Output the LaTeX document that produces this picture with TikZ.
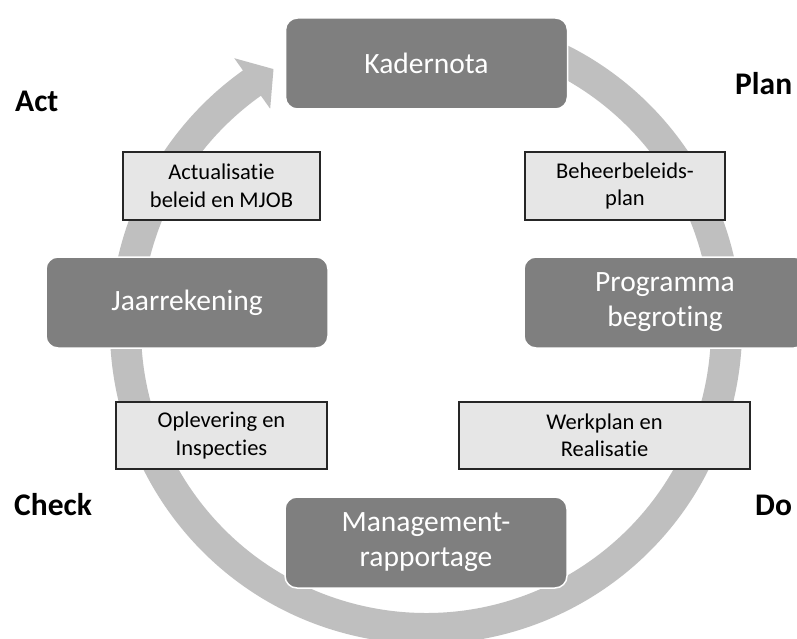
\documentclass[tikz,border=0pt]{standalone}
\usepackage{fontspec}
\setmainfont{Carlito}[Ligatures={NoCommon,NoRare}]
\usetikzlibrary{calc}
\definecolor{boxdark}{HTML}{7F7F7F}
\definecolor{boxlight}{HTML}{E6E6E6}
\definecolor{ringgray}{HTML}{BFBFBF}
\begin{document}
\begin{tikzpicture}[x=1pt,y=-1pt,
  bigbox/.style={rectangle, rounded corners=12pt, fill=boxdark, draw=white, line width=1.5pt,
    text=white, align=center, inner sep=0pt, minimum width=282pt, minimum height=91pt,
    font=\fontsize{29.5}{35}\selectfont},
  smallbox/.style={rectangle, fill=boxlight, draw=black!85, line width=1.3pt, align=center,
    inner sep=0pt, minimum height=67pt, font=\fontsize{22.5}{27.5}\selectfont},
  phase/.style={anchor=base west, inner sep=0pt, font=\fontsize{31.5}{38}\selectfont\bfseries}]
\useasboundingbox (0,0) rectangle (797,639);
\fill[white] (0,0) rectangle (797,639);
\coordinate (c) at (426,328);
% ring arrow
\fill[ringgray] ($(c)+(-75:316)$) arc[start angle=-75, end angle=234.6, radius=316]
  -- ($(c)+(234.6:331)$) -- ($(c)+(239.5:300.5)$) -- ($(c)+(234.6:269)$)
  -- ($(c)+(234.6:285)$) arc[start angle=234.6, end angle=-75, radius=285] -- cycle;
% main boxes
\node[bigbox] (kader) at (426.5,63.5) {Kadernota};
\node[bigbox] (jaar) at (187,302.5) {Jaarrekening};
\node[bigbox] (prog) at (665,302.5) {Programma\\begroting};
\node[bigbox] (mgmt) at (426,542.5) {Management-\\rapportage};
% small boxes
\node[smallbox, minimum width=197pt, minimum height=68pt] (actual) at (221.5,186) {Actualisatie\\beleid en MJOB};
\node[smallbox, minimum width=200pt, minimum height=68pt] (beheer) at (625,186) {Beheerbeleids-\\plan};
\node[smallbox, minimum width=211pt] (oplev) at (221.5,435.5) {Oplevering en\\Inspecties};
\node[smallbox, minimum width=291pt] (werk) at (604.5,435.5) {Werkplan en\\Realisatie};
% phase labels
\node[phase] (act) at (15,112) {Act};
\node[phase] (plan) at (735,95) {Plan};
\node[phase] (check) at (14,515) {Check};
\node[phase] (do) at (755,515) {Do};
\end{tikzpicture}
\end{document}
